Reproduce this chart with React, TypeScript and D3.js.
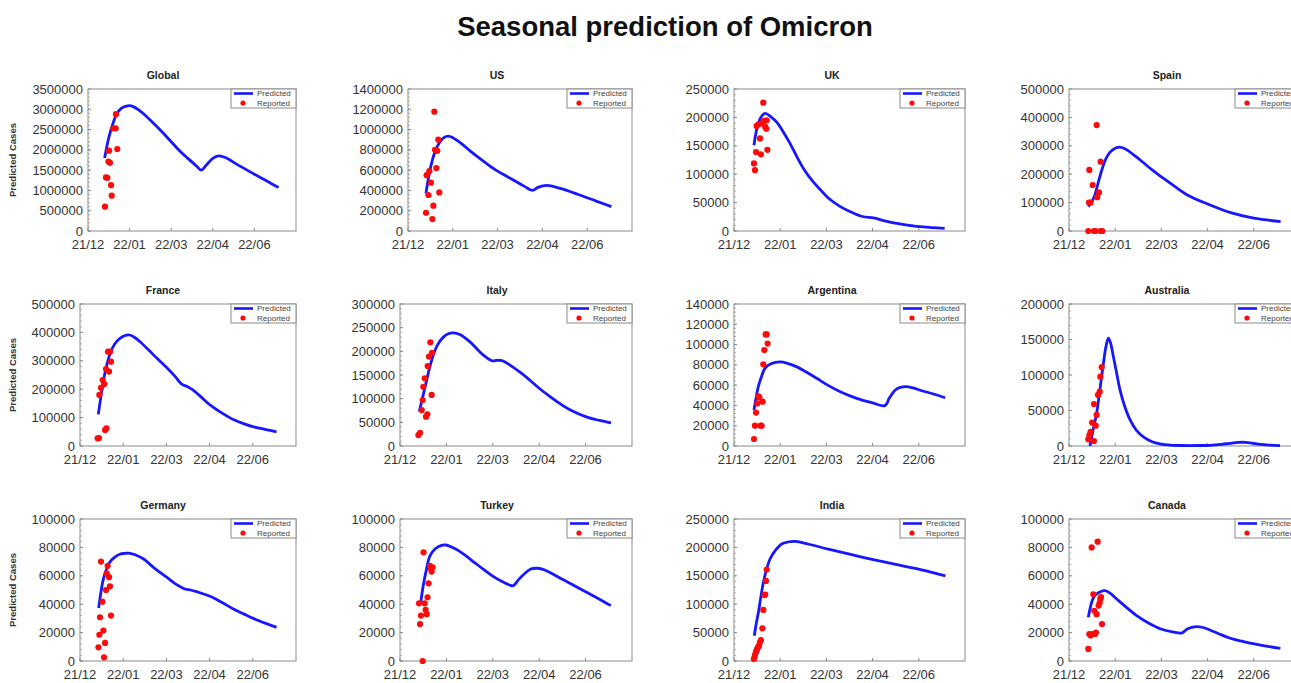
import React from 'react';
import * as d3 from 'd3';

const chartTitle = 'Seasonal prediction of Omicron';
const dateTickDays = [0, 50, 100, 150, 200];
const dateTickLabels = ['21/12', '22/01', '22/03', '22/04', '22/06'];
const countries = ['Global', 'US', 'UK', 'Spain', 'France', 'Italy', 'Argentina', 'Australia', 'Germany', 'Turkey', 'India', 'Canada'];
const yMax = [3500000, 1400000, 250000, 500000, 500000, 300000, 140000, 200000, 100000, 100000, 250000, 100000];
const yStep = [500000, 200000, 50000, 100000, 100000, 50000, 20000, 50000, 20000, 20000, 50000, 20000];

// [day since start, cases]
const globalPredicted = [[20, 1800000], [25, 2300000], [30, 2650000], [35, 2900000], [40, 3020000], [45, 3070000], [50, 3090000], [55, 3060000], [60, 3000000], [65, 2920000], [70, 2830000], [80, 2630000], [90, 2420000], [100, 2200000], [110, 1980000], [120, 1790000], [130, 1610000], [136, 1500000], [142, 1620000], [150, 1790000], [157, 1850000], [165, 1810000], [180, 1630000], [200, 1400000], [215, 1230000], [229, 1070000]];
const globalReported = [[20.4, 600000], [21.6, 1320000], [23.3, 1310000], [24.5, 1710000], [25.3, 1980000], [26.4, 1680000], [27.7, 1130000], [28.5, 870000], [30.5, 2530000], [33.3, 2530000], [33.6, 2880000], [35.2, 2020000]];

const usPredicted = [[20, 370000], [25, 620000], [30, 780000], [35, 870000], [40, 920000], [45, 935000], [50, 920000], [60, 860000], [70, 785000], [80, 715000], [90, 650000], [100, 590000], [110, 540000], [120, 490000], [130, 440000], [139, 400000], [145, 430000], [155, 450000], [170, 420000], [190, 360000], [210, 295000], [227, 240000]];
const usReported = [[20.1, 180000], [20.8, 550000], [22.8, 355000], [23.8, 590000], [25.6, 476000], [27.2, 118000], [28.3, 250000], [29.4, 1176000], [30.1, 800000], [31.6, 620000], [32.7, 790000], [33.8, 900000], [34.9, 380000]];

const ukPredicted = [[21.6, 151000], [25, 182000], [29, 200000], [33.5, 207000], [40, 201000], [46, 192000], [52, 178000], [60, 156000], [68, 131000], [76, 108000], [86, 86000], [95, 70000], [102, 58000], [115, 43000], [126, 34000], [139, 25500], [151, 23000], [163, 18000], [176, 13500], [190, 10000], [201, 7600], [215, 6000], [228, 4700]];
const ukReported = [[21.6, 119000], [22.7, 107000], [23.8, 139000], [24.5, 185000], [26.7, 188000], [28.1, 163000], [29.2, 135000], [30.3, 190000], [31.7, 226000], [32.5, 194000], [33.6, 184000], [35, 180000], [35.4, 195000], [36.1, 143000]];

const spainPredicted = [[20.9, 85600], [25, 105000], [28, 127000], [32, 175000], [36.6, 226000], [40, 255000], [44, 276000], [50, 291000], [55, 295000], [62, 287000], [70, 268000], [80, 242000], [90, 215000], [100, 191000], [114, 158000], [128, 127000], [150, 95000], [175, 64500], [200, 45000], [229, 33000]];
const spainReported = [[20.9, 0], [21.6, 100000], [22, 215000], [23.4, 100000], [25.6, 162000], [27, 0], [28.5, 0], [29.9, 373000], [30.6, 119000], [32.4, 136000], [34.2, 244000], [34.2, 0], [36, 0]];

const francePredicted = [[21.2, 111500], [24, 170000], [27.2, 232000], [31, 285000], [34.9, 326000], [40, 358000], [46.3, 379000], [56, 391000], [62, 385000], [69.5, 367000], [80, 336000], [90, 306000], [100, 277000], [110, 245000], [117.7, 218000], [125, 208000], [131, 197000], [140, 173000], [150, 146000], [165, 115000], [177.5, 93000], [190, 78000], [201, 67000], [215, 58000], [227.5, 50000]];
const franceReported = [[20.4, 27000], [22, 28000], [22.4, 180000], [24.3, 205000], [26.2, 232000], [28.2, 218000], [29, 56000], [30.1, 271000], [30.5, 62000], [32.4, 332000], [34.7, 332000], [33.6, 262000], [35.9, 297000]];

const italyPredicted = [[20.8, 72500], [25, 108000], [28.7, 139000], [32, 166000], [35.9, 192000], [40, 212000], [46.7, 230000], [52, 237000], [57.5, 239000], [65, 235000], [75.4, 220000], [82, 207000], [89.8, 192000], [99.5, 180000], [104, 181000], [110, 180500], [118.5, 171000], [130, 155000], [140, 139000], [150, 122000], [162, 104000], [172, 90000], [183.6, 76000], [201.5, 61000], [215, 54000], [227.4, 49000]];
const italyReported = [[19.8, 23000], [21.6, 28000], [23.4, 76000], [24.4, 97000], [25.1, 125000], [26.6, 143000], [28, 62000], [29.5, 67000], [29.8, 169000], [31.2, 189000], [32.7, 219000], [34.1, 108000], [34.5, 197000]];

const argentinaPredicted = [[21.6, 35500], [24, 48000], [26.3, 58500], [30, 69000], [33.5, 76600], [40, 81000], [49.8, 83000], [58, 81500], [68, 78000], [80, 72000], [90, 66500], [101.4, 60000], [115, 53500], [132.8, 47000], [150, 42500], [163.4, 39800], [168, 47000], [174.3, 55000], [180, 57800], [187, 58500], [195, 57000], [201.4, 55000], [215, 51500], [228.5, 47600]];
const argentinaReported = [[21.6, 6900], [22.7, 20000], [23.8, 33000], [25.3, 42000], [26.3, 49000], [27.4, 48000], [28.8, 20000], [29.9, 20000], [31, 43700], [31.7, 80500], [32.8, 94600], [34.2, 110000], [35.4, 110000], [36.4, 101000]];

const australiaPredicted = [[22.7, 0], [26, 22000], [29.9, 46000], [33.5, 80000], [37.2, 116000], [40, 140000], [42.6, 152000], [45, 145000], [48, 126000], [51.5, 103000], [55.2, 79000], [60, 57000], [66, 37000], [73, 22000], [80.5, 13000], [90, 6000], [98.5, 3000], [110, 1300], [123.8, 700], [140, 700], [152.6, 1000], [165, 2300], [174.3, 3800], [183, 5000], [190.5, 5200], [198, 4200], [206.8, 2300], [218, 1200], [228.4, 600]];
const australiaReported = [[20.9, 9400], [22, 15500], [23.4, 20000], [25, 33000], [27, 7000], [27, 59000], [28.9, 28600], [29.9, 43700], [31.4, 72000], [33.2, 76500], [33.9, 97600], [35.4, 111000]];

const germanyPredicted = [[21.6, 37300], [24, 47500], [26.6, 56600], [30, 63500], [34.3, 69500], [40, 73000], [46, 75200], [52, 75800], [56, 76000], [63, 75000], [73.3, 72000], [85, 66000], [100.3, 59000], [110, 54500], [121.5, 50700], [128, 50000], [135, 48800], [150.5, 45600], [165, 41000], [177.5, 36600], [190, 33000], [200.6, 30000], [215, 26500], [227.5, 23700]];
const germanyReported = [[21.3, 9600], [22.4, 18500], [23.1, 30800], [24.3, 70000], [25.9, 41800], [27, 21400], [27.8, 2600], [29, 12700], [30.1, 50000], [30.9, 61700], [32, 67000], [33.6, 59000], [34.7, 52600], [35.9, 32000]];

const turkeyPredicted = [[22.4, 41300], [25, 53000], [27.8, 62400], [32.3, 74000], [38, 79000], [44, 81200], [49.2, 81700], [58, 79500], [68.2, 75400], [80, 69500], [90, 64500], [99.5, 60000], [110, 56000], [118, 53500], [122, 53000], [128, 57500], [135, 62000], [141, 64800], [147.3, 65300], [154, 64500], [161.6, 62400], [175, 57500], [188, 53000], [201, 48400], [215, 43500], [227.2, 39000]];
const turkeyReported = [[20.5, 40600], [21.6, 26000], [22.6, 32000], [24.4, 0], [25.4, 76500], [26.6, 40600], [27.6, 36000], [28.7, 33000], [29.7, 44900], [30.8, 54700], [32.3, 67000], [33.4, 64800], [34.1, 63000], [35.2, 66000]];

const indiaPredicted = [[22, 44600], [24, 65000], [26.4, 85700], [29, 112000], [31.8, 138500], [35, 160000], [39, 179600], [45, 195000], [51.6, 206000], [58, 209500], [66.5, 210700], [80, 206000], [101.8, 197000], [125, 188000], [152, 178000], [175, 170000], [201.8, 161000], [228.8, 150000]];
const indiaReported = [[21.5, 3500], [22.2, 6000], [22.7, 11000], [23.8, 16000], [24.5, 19000], [25.3, 22000], [26.2, 25000], [27.1, 27000], [28.1, 33000], [29.2, 37000], [30.7, 57500], [31.7, 90000], [32.8, 116000], [33.9, 117000], [34.6, 141000], [35.4, 161000]];

const canadaPredicted = [[20.9, 30800], [24.5, 41300], [27, 45000], [29.9, 47200], [34, 48800], [38.9, 49500], [44, 48000], [51.6, 43700], [60, 39000], [73.2, 32000], [86, 26800], [99.6, 22500], [112, 20500], [122, 19700], [128, 22500], [134, 23800], [138.3, 24200], [145, 23600], [150, 22500], [162, 19200], [174.6, 16000], [188, 13800], [200.6, 12000], [215, 10300], [228.8, 8900]];
const canadaReported = [[20.9, 8500], [22, 19000], [23.4, 18000], [24.5, 80000], [25.6, 19000], [26.3, 47000], [27.4, 35400], [28.1, 19000], [29.2, 20000], [29.9, 33000], [31, 84000], [32.1, 39000], [33.2, 41000], [33.9, 43700], [34.6, 45000], [35.7, 26000]];

const predicted = [globalPredicted, usPredicted, ukPredicted, spainPredicted, francePredicted, italyPredicted, argentinaPredicted, australiaPredicted, germanyPredicted, turkeyPredicted, indiaPredicted, canadaPredicted];
const reported = [globalReported, usReported, ukReported, spainReported, franceReported, italyReported, argentinaReported, australiaReported, germanyReported, turkeyReported, indiaReported, canadaReported];

const W = 1291;
const H = 683;
const colLeft = [80, 400, 734, 1069];
const colRight = [296, 632, 965, 1300];
const colTitleX = [163, 497, 832, 1167];
const rowTop = [89, 304, 519];
const plotH = 142;
const font = '"Liberation Sans", Arial, Helvetica, sans-serif';
const blue = '#1717ff';
const red = '#ff0a0a';

function Panel({ i }: { i: number }) {
  const col = i % 4;
  const row = Math.floor(i / 4);
  const left = colLeft[col] + (yMax[i] >= 1000000 ? 8 : 0);
  const right = colRight[col];
  const top = rowTop[row];
  const bottom = top + plotH;

  const x = d3.scaleLinear().domain([0, 250]).range([left, right]);
  const y = d3.scaleLinear().domain([0, yMax[i]]).range([bottom, top]);
  const line = d3
    .line<number[]>()
    .x((d) => x(d[0]))
    .y((d) => Math.min(bottom, y(d[1])))
    .curve(d3.curveCatmullRom.alpha(0.5));

  const yTicks = d3.range(0, yMax[i] + yStep[i] / 2, yStep[i]);
  const yMinor = d3.range(0, yMax[i], yStep[i] / 5);
  const lx = right - 65;

  return (
    <g>
      <text x={colTitleX[col]} y={top - 10} textAnchor="middle" fontSize={10.5} fontWeight="bold" fill="#222">
        {countries[i]}
      </text>
      {col === 0 && (
        <text
          transform={`translate(16,${(top + bottom) / 2}) rotate(-90)`}
          textAnchor="middle"
          fontSize={9.5}
          fontWeight="bold"
          fill="#333"
        >
          Predicted Cases
        </text>
      )}
      <rect x={left} y={top} width={right - left} height={plotH} fill="white" stroke="#8a8a8a" strokeWidth={1} />
      {yMinor.map((v) => (
        <line key={'m' + v} x1={left} x2={left + 2} y1={y(v)} y2={y(v)} stroke="#999" strokeWidth={0.8} />
      ))}
      {yTicks.map((v) => (
        <g key={'y' + v}>
          <line x1={left} x2={left + 3} y1={y(v)} y2={y(v)} stroke="#888" />
          <text x={left - 5} y={y(v)} dy="0.35em" textAnchor="end" fontSize={13} fill="#333">
            {d3.format('d')(v)}
          </text>
        </g>
      ))}
      {dateTickDays.map((d, k) => (
        <g key={'x' + d}>
          <line x1={x(d)} x2={x(d)} y1={bottom} y2={bottom - 3} stroke="#888" />
          <text x={x(d)} y={bottom + 18} textAnchor="middle" fontSize={13} fill="#333">
            {dateTickLabels[k]}
          </text>
        </g>
      ))}
      <path d={line(predicted[i]) || ''} fill="none" stroke={blue} strokeWidth={2.8} strokeLinejoin="round" />
      {reported[i].map((d, k) => (
        <circle key={k} cx={x(d[0])} cy={y(d[1])} r={3.1} fill={red} />
      ))}
      <rect x={lx} y={top} width={65} height={19} fill="white" stroke="#8a8a8a" strokeWidth={1} />
      <line x1={lx + 3} x2={lx + 22} y1={top + 4.5} y2={top + 4.5} stroke={blue} strokeWidth={2.6} />
      <text x={lx + 26} y={top + 7.3} fontSize={8} fill="#444">
        Predicted
      </text>
      <circle cx={lx + 12} cy={top + 14} r={2.6} fill={red} />
      <text x={lx + 26} y={top + 16.8} fontSize={8} fill="#444">
        Reported
      </text>
    </g>
  );
}

export default function App() {
  return (
    <svg
      width={W}
      height={H}
      viewBox={`0 0 ${W} ${H}`}
      style={{ position: 'absolute', left: 0, top: 0, background: 'white', fontFamily: font }}
    >
      <rect width={W} height={H} fill="white" />
      <text x={665} y={36} textAnchor="middle" fontSize={27.5} fontWeight="bold" fill="#111">
        {chartTitle}
      </text>
      {countries.map((c, i) => (
        <Panel key={c} i={i} />
      ))}
    </svg>
  );
}
